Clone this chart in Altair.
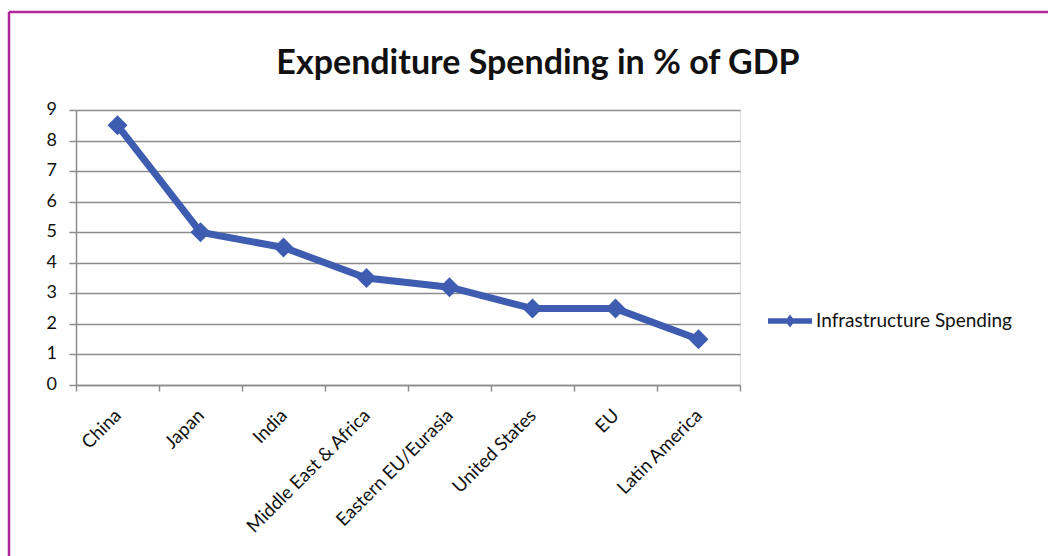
import altair as alt
import pandas as pd

categories = ["China", "Japan", "India", "Middle East & Africa", "Eastern EU/Eurasia",
              "United States", "EU", "Latin America"]
values = [8.5, 5.0, 4.5, 3.5, 3.2, 2.5, 2.5, 1.5]
series_name = "Infrastructure Spending"
y_ticks = [0, 1, 2, 3, 4, 5, 6, 7, 8, 9]
title_text = "Expenditure Spending in % of GDP"

BLUE = "#3F5DB0"
GRID = "#8c8c8c"
FONT = "Lato"

df = pd.DataFrame({"category": categories, "value": values, "series": [series_name] * len(values)})
title_df = pd.DataFrame({"t": [title_text]})
ytick_df = pd.DataFrame({"v": y_ticks})

W, H = 664, 275
PAD = {"left": 76, "top": 110, "right": 1048 - 76 - W, "bottom": 556 - 110 - H}

legend_path = ("M-1,-0.12 L1,-0.12 L1,0.12 L-1,0.12 Z "
               "M0,-0.3 L0.22,0 L0,0.3 L-0.22,0 Z")

yscale = alt.Scale(domain=[0, 9], nice=False)
y_axis = alt.Axis(title=None, values=y_ticks, labels=False, tickSize=7, tickColor=GRID,
                  tickWidth=1.5, domainColor=GRID, domainWidth=1.5,
                  gridColor=GRID, gridWidth=1.5)

base = alt.Chart(df).encode(
    x=alt.X("category:N", sort=categories, bandPosition=0.5,
            scale=alt.Scale(type="band", paddingInner=0, paddingOuter=0),
            axis=alt.Axis(title=None, labelAngle=-45, labelAlign="right", labelBaseline="middle",
                          labelFontSize=18.5, labelFont=FONT, labelColor="#111", labelPadding=21,
                          labelLimit=400,
                          tickBand="extent", tickSize=6, tickColor=GRID, tickWidth=1.5,
                          domainColor=GRID, domainWidth=1.5, grid=False)),
    y=alt.Y("value:Q", scale=yscale, axis=y_axis),
    color=alt.Color("series:N", scale=alt.Scale(range=[BLUE]),
                    legend=alt.Legend(title=None, orient="none", legendX=692, legendY=189,
                                      symbolType=legend_path, symbolSize=1936,
                                      symbolFillColor=BLUE, symbolStrokeWidth=0,
                                      labelFont=FONT, labelFontSize=19, labelColor="#111",
                                      labelOffset=4, labelLimit=400)),
)

line = base.mark_line(strokeWidth=7)
pts = base.mark_point(shape="diamond", filled=True, size=400, opacity=1)

ylabels = alt.Chart(ytick_df).mark_text(
    font=FONT, fontSize=18, color="#111", align="right", baseline="middle"
).encode(y=alt.Y("v:Q", scale=yscale, axis=y_axis), text="v:N", x=alt.value(-19))

title = alt.Chart(title_df).mark_text(
    font=FONT, fontSize=34, fontWeight="bold", color="#111", align="center", baseline="alphabetic"
).encode(text="t:N", x=alt.value(538 - 76), y=alt.value(74 - 110))

BORDER = "#B0279B"
top_border = alt.Chart(title_df).mark_rule(color=BORDER, strokeWidth=2.5).encode(
    x=alt.value(9 - 76), x2=alt.value(1048 - 76 + 5), y=alt.value(12 - 110))
left_border = alt.Chart(title_df).mark_rule(color=BORDER, strokeWidth=2.5).encode(
    x=alt.value(9 - 76), y=alt.value(12 - 110), y2=alt.value(556 - 110 + 5))

chart = alt.layer(line, pts, ylabels, title, top_border, left_border).properties(
    width=W, height=H, autosize="none", padding=PAD,
).configure_view(stroke=None).configure(background="white")

chart.save("out.html", embed_options={"renderer": "svg", "actions": False})
